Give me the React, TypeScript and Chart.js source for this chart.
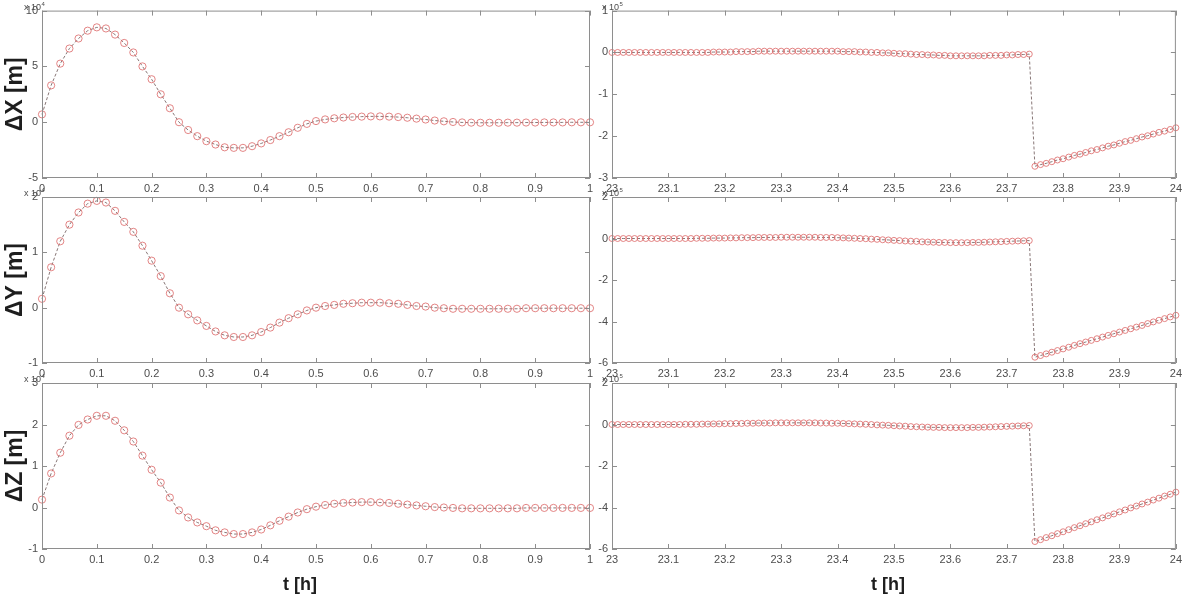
import React, { useEffect, useRef } from "react";
import { Chart, registerables } from "chart.js";

Chart.register(...registerables);

const W = 1186;
const H = 597;

// time stamps, left column (minutes after t=0, converted to hours)
const tLeftMin = [
  0, 1, 2, 3, 4, 5, 6, 7, 8, 9, 10, 11, 12, 13, 14, 15, 16, 17, 18, 19, 20,
  21, 22, 23, 24, 25, 26, 27, 28, 29, 30, 31, 32, 33, 34, 35, 36, 37, 38, 39, 40,
  41, 42, 43, 44, 45, 46, 47, 48, 49, 50, 51, 52, 53, 54, 55, 56, 57, 58, 59, 60,
];

// time stamps, right column (hours)
const tRight = [
  23.0, 23.01, 23.02, 23.03, 23.04, 23.05, 23.06, 23.07, 23.08, 23.09,
  23.1, 23.11, 23.12, 23.13, 23.14, 23.15, 23.16, 23.17, 23.18, 23.19,
  23.2, 23.21, 23.22, 23.23, 23.24, 23.25, 23.26, 23.27, 23.28, 23.29,
  23.3, 23.31, 23.32, 23.33, 23.34, 23.35, 23.36, 23.37, 23.38, 23.39,
  23.4, 23.41, 23.42, 23.43, 23.44, 23.45, 23.46, 23.47, 23.48, 23.49,
  23.5, 23.51, 23.52, 23.53, 23.54, 23.55, 23.56, 23.57, 23.58, 23.59,
  23.6, 23.61, 23.62, 23.63, 23.64, 23.65, 23.66, 23.67, 23.68, 23.69,
  23.7, 23.71, 23.72, 23.73, 23.74, 23.75, 23.76, 23.77, 23.78, 23.79,
  23.8, 23.81, 23.82, 23.83, 23.84, 23.85, 23.86, 23.87, 23.88, 23.89,
  23.9, 23.91, 23.92, 23.93, 23.94, 23.95, 23.96, 23.97, 23.98, 23.99,
  24.0,
];

// ΔX, ΔY, ΔZ (left column, in units of the axis multiplier)
const dxLeft = [
  0.7, 3.3, 5.25, 6.6, 7.5, 8.2, 8.5, 8.4, 7.85, 7.1,
  6.25, 5.0, 3.85, 2.5, 1.25, 0.0, -0.7, -1.25, -1.7, -2.0,
  -2.25, -2.3, -2.3, -2.15, -1.9, -1.6, -1.25, -0.9, -0.5, -0.15,
  0.1, 0.25, 0.35, 0.42, 0.47, 0.5, 0.52, 0.52, 0.5, 0.46,
  0.4, 0.32, 0.24, 0.15, 0.08, 0.02, -0.02, -0.04, -0.05, -0.05,
  -0.05, -0.04, -0.04, -0.03, -0.03, -0.02, -0.02, -0.02, -0.01, -0.01, -0.01,
];
const dyLeft = [
  0.16, 0.73, 1.2, 1.5, 1.72, 1.88, 1.93, 1.9, 1.75, 1.55,
  1.37, 1.12, 0.85, 0.57, 0.26, 0.0, -0.12, -0.23, -0.33, -0.43,
  -0.5, -0.53, -0.53, -0.5, -0.44, -0.36, -0.27, -0.19, -0.12, -0.05,
  0.0, 0.03, 0.05, 0.07, 0.08, 0.09, 0.09, 0.09, 0.08, 0.07,
  0.05, 0.03, 0.02, 0.0, -0.01, -0.02, -0.02, -0.02, -0.02, -0.02,
  -0.02, -0.02, -0.02, -0.01, -0.01, -0.01, -0.01, -0.01, -0.01, -0.01, -0.01,
];
const dzLeft = [
  0.19, 0.82, 1.32, 1.73, 1.99, 2.12, 2.21, 2.21, 2.09, 1.86,
  1.59, 1.25, 0.91, 0.6, 0.24, -0.07, -0.24, -0.36, -0.45, -0.55,
  -0.6, -0.64, -0.64, -0.6, -0.53, -0.43, -0.32, -0.22, -0.12, -0.04,
  0.02, 0.06, 0.09, 0.11, 0.12, 0.13, 0.13, 0.12, 0.11, 0.09,
  0.07, 0.05, 0.03, 0.01, 0.0, -0.01, -0.02, -0.02, -0.02, -0.02,
  -0.02, -0.02, -0.02, -0.01, -0.01, -0.01, -0.01, -0.01, -0.01, -0.01, -0.01,
];

// ΔX, ΔY, ΔZ (right column)
const dxRight = [
  0.0, 0.0, 0.0, 0.0, 0.0, 0.0, 0.0, 0.0, 0.0, 0.0,
  0.0, 0.0, 0.0, 0.0, 0.0, 0.0, 0.0, 0.0, 0.01, 0.01,
  0.01, 0.01, 0.02, 0.02, 0.02, 0.02, 0.03, 0.03, 0.03, 0.03,
  0.03, 0.03, 0.03, 0.03, 0.03, 0.03, 0.03, 0.03, 0.03, 0.03,
  0.03, 0.02, 0.02, 0.02, 0.01, 0.01, 0.0, 0.0, -0.01, -0.01,
  -0.02, -0.03, -0.03, -0.04, -0.05, -0.05, -0.06, -0.06, -0.07, -0.07,
  -0.08, -0.08, -0.08, -0.08, -0.08, -0.08, -0.08, -0.07, -0.07, -0.07,
  -0.06, -0.06, -0.05, -0.05, -0.04,
  -2.72, -2.68, -2.65, -2.61, -2.57, -2.54, -2.5, -2.46, -2.43, -2.39,
  -2.35, -2.32, -2.28, -2.24, -2.21, -2.17, -2.13, -2.1, -2.06, -2.02,
  -1.99, -1.95, -1.91, -1.88, -1.84, -1.8,
];
const dyRight = [
  0.0, 0.0, 0.0, 0.0, 0.0, 0.0, 0.0, 0.0, 0.0, 0.0,
  0.0, 0.0, 0.0, 0.0, 0.0, 0.01, 0.01, 0.01, 0.02, 0.02,
  0.02, 0.03, 0.03, 0.04, 0.04, 0.04, 0.05, 0.05, 0.05, 0.05,
  0.06, 0.06, 0.06, 0.06, 0.06, 0.06, 0.06, 0.05, 0.05, 0.05,
  0.04, 0.03, 0.02, 0.01, 0.0, -0.01, -0.03, -0.04, -0.06, -0.07,
  -0.09, -0.1, -0.12, -0.13, -0.14, -0.16, -0.17, -0.18, -0.19, -0.19,
  -0.2, -0.2, -0.2, -0.2, -0.19, -0.19, -0.18, -0.17, -0.16, -0.15,
  -0.14, -0.13, -0.12, -0.11, -0.1,
  -5.72, -5.64, -5.56, -5.48, -5.4, -5.32, -5.24, -5.15, -5.07, -4.99,
  -4.91, -4.83, -4.75, -4.67, -4.59, -4.51, -4.43, -4.35, -4.27, -4.19,
  -4.1, -4.02, -3.94, -3.86, -3.78, -3.7,
];
const dzRight = [
  0.0, 0.0, 0.0, 0.0, 0.0, 0.0, 0.0, 0.0, 0.0, 0.0,
  0.0, 0.0, 0.0, 0.01, 0.01, 0.01, 0.02, 0.02, 0.03, 0.03,
  0.04, 0.04, 0.05, 0.05, 0.06, 0.06, 0.07, 0.07, 0.07, 0.08,
  0.08, 0.08, 0.08, 0.08, 0.08, 0.08, 0.08, 0.07, 0.07, 0.06,
  0.06, 0.05, 0.04, 0.03, 0.02, 0.01, 0.0, -0.02, -0.03, -0.04,
  -0.06, -0.07, -0.08, -0.1, -0.11, -0.12, -0.13, -0.14, -0.14, -0.15,
  -0.15, -0.15, -0.15, -0.15, -0.14, -0.14, -0.13, -0.12, -0.11, -0.1,
  -0.09, -0.08, -0.07, -0.06, -0.05,
  -5.64, -5.55, -5.45, -5.36, -5.26, -5.17, -5.07, -4.97, -4.88, -4.78,
  -4.69, -4.59, -4.5, -4.4, -4.31, -4.21, -4.12, -4.02, -3.93, -3.83,
  -3.74, -3.64, -3.55, -3.45, -3.36, -3.26,
];

const yTitles = ["\u0394X [m]", "\u0394Y [m]", "\u0394Z [m]"];
const xTitle = "t [h]";
const leftExp = "4";
const rightExp = "5";

// y-axis ranges per row: [min, max, step]
const leftYRanges = [
  [-5, 10, 5],
  [-1, 2, 1],
  [-1, 3, 1],
];
const rightYRanges = [
  [-3, 1, 1],
  [-6, 2, 2],
  [-6, 2, 2],
];

// ---------- layout / style ----------
const COL_LEFT = { l: 42, w: 548 };
const COL_RIGHT = { l: 612, w: 567 };
const ROWS = [
  { t: 9, h: 169 },
  { t: 197, h: 166 },
  { t: 383, h: 166 },
];
const YW = 40;
const XH = 18;
const MARK = "rgba(222,112,112,0.85)";
const LINE = "rgba(115,95,95,0.85)";
const TXT = "#4d4d4d";
const BOX = "#8e8e8e";
const FONT = '"Liberation Sans", Arial, sans-serif';

const fmt = (v: number) => String(Math.round(v * 10) / 10);

const matlabPlugin = {
  id: "matlab",
  afterDraw(chart: any, _args: any, opts: any) {
    const { ctx, chartArea: a, scales } = chart;
    const xs = scales.x;
    const ys = scales.y;
    ctx.save();
    ctx.strokeStyle = BOX;
    ctx.lineWidth = 1;
    ctx.strokeRect(a.left + 0.5, a.top + 0.5, a.right - a.left - 1, a.bottom - a.top - 1);
    const tl = 5;
    ctx.beginPath();
    xs.ticks.forEach((t: any) => {
      const p = Math.round(xs.getPixelForValue(t.value)) + 0.5;
      ctx.moveTo(p, a.bottom);
      ctx.lineTo(p, a.bottom - tl);
      ctx.moveTo(p, a.top);
      ctx.lineTo(p, a.top + tl);
    });
    ys.ticks.forEach((t: any) => {
      const p = Math.round(ys.getPixelForValue(t.value)) + 0.5;
      ctx.moveTo(a.left, p);
      ctx.lineTo(a.left + tl, p);
      ctx.moveTo(a.right, p);
      ctx.lineTo(a.right - tl, p);
    });
    ctx.stroke();

    // multiplier "x 10^n"
    ctx.fillStyle = TXT;
    ctx.textAlign = "left";
    ctx.textBaseline = "alphabetic";
    ctx.font = `9px ${FONT}`;
    const ex = a.left - opts.expDx;
    const ey = a.top - 1;
    ctx.fillText("x 10", ex, ey);
    const mw = ctx.measureText("x 10").width;
    ctx.font = `6px ${FONT}`;
    ctx.fillText(opts.exp, ex + mw + 0.5, ey - 4);

    if (opts.yTitle) {
      ctx.save();
      ctx.translate(16, (a.top + a.bottom) / 2);
      ctx.rotate(-Math.PI / 2);
      ctx.font = `bold 23px ${FONT}`;
      ctx.fillStyle = "#1e1e1e";
      ctx.textAlign = "center";
      ctx.textBaseline = "middle";
      ctx.fillText(opts.yTitle, 0, 0);
      ctx.restore();
    }
    if (opts.xTitle) {
      ctx.font = `bold 18px ${FONT}`;
      ctx.fillStyle = "#1e1e1e";
      ctx.textAlign = "center";
      ctx.textBaseline = "middle";
      ctx.fillText(opts.xTitle, opts.xTitleX, 585);
    }
    ctx.restore();
  },
};

type PanelCfg = {
  col: { l: number; w: number };
  row: { t: number; h: number };
  xs: number[];
  ys: number[];
  xmin: number;
  xmax: number;
  yr: number[];
  radius: number;
  exp: string;
  expDx: number;
  yTitle?: string;
  xTitle?: string;
  xTitleX?: number;
};

function Panel({ cfg }: { cfg: PanelCfg }) {
  const ref = useRef<HTMLCanvasElement>(null);
  useEffect(() => {
    const { col, row } = cfg;
    const chart = new Chart(ref.current as HTMLCanvasElement, {
      type: "line",
      data: {
        datasets: [
          {
            data: cfg.xs.map((x, i) => ({ x, y: cfg.ys[i] })),
            borderColor: LINE,
            borderWidth: 1,
            borderDash: [3, 2],
            pointRadius: cfg.radius,
            pointBorderColor: MARK,
            pointBackgroundColor: "rgba(0,0,0,0)",
            pointBorderWidth: 1,
            tension: 0,
            fill: false,
            clip: false,
          } as any,
        ],
      },
      options: {
        responsive: false,
        animation: false,
        events: [],
        layout: {
          padding: {
            left: col.l - YW,
            top: row.t,
            right: W - (col.l + col.w),
            bottom: H - (row.t + row.h) - XH,
          },
        },
        plugins: {
          legend: { display: false },
          tooltip: { enabled: false },
          matlab: {
            exp: cfg.exp,
            expDx: cfg.expDx,
            yTitle: cfg.yTitle,
            xTitle: cfg.xTitle,
            xTitleX: cfg.xTitleX,
          },
        } as any,
        scales: {
          x: {
            type: "linear",
            min: cfg.xmin,
            max: cfg.xmax,
            afterFit: (s: any) => {
              s.height = XH;
            },
            grid: { display: false, drawTicks: false },
            border: { display: false },
            ticks: {
              stepSize: 0.1,
              autoSkip: false,
              maxRotation: 0,
              padding: 4,
              color: TXT,
              font: { family: FONT, size: 11 },
              callback: (v: any) => fmt(Number(v)),
            },
          },
          y: {
            type: "linear",
            min: cfg.yr[0],
            max: cfg.yr[1],
            afterFit: (s: any) => {
              s.width = YW;
            },
            grid: { display: false, drawTicks: false },
            border: { display: false },
            ticks: {
              stepSize: cfg.yr[2],
              autoSkip: false,
              padding: 4,
              color: TXT,
              font: { family: FONT, size: 11 },
              callback: (v: any) => fmt(Number(v)),
            },
          },
        },
      },
      plugins: [matlabPlugin],
    });
    return () => chart.destroy();
  }, []);
  return (
    <canvas
      ref={ref}
      width={W}
      height={H}
      style={{ position: "absolute", left: 0, top: 0, width: W, height: H }}
    />
  );
}

export default function App() {
  const tLeft = tLeftMin.map((m) => m / 60);
  const leftSeries = [dxLeft, dyLeft, dzLeft];
  const rightSeries = [dxRight, dyRight, dzRight];
  const panels: PanelCfg[] = [];
  for (let r = 0; r < 3; r++) {
    panels.push({
      col: COL_LEFT,
      row: ROWS[r],
      xs: tLeft,
      ys: leftSeries[r],
      xmin: 0,
      xmax: 1,
      yr: leftYRanges[r],
      radius: 3.6,
      exp: leftExp,
      expDx: 18,
      yTitle: yTitles[r],
      xTitle: r === 2 ? xTitle : undefined,
      xTitleX: 300,
    });
    panels.push({
      col: COL_RIGHT,
      row: ROWS[r],
      xs: tRight,
      ys: rightSeries[r],
      xmin: 23,
      xmax: 24,
      yr: rightYRanges[r],
      radius: 3,
      exp: rightExp,
      expDx: 10,
      xTitle: r === 2 ? xTitle : undefined,
      xTitleX: 888,
    });
  }
  return (
    <div
      style={{
        position: "fixed",
        left: 0,
        top: 0,
        width: W,
        height: H,
        background: "#fff",
        overflow: "hidden",
      }}
    >
      {panels.map((p, i) => (
        <Panel key={i} cfg={p} />
      ))}
    </div>
  );
}
